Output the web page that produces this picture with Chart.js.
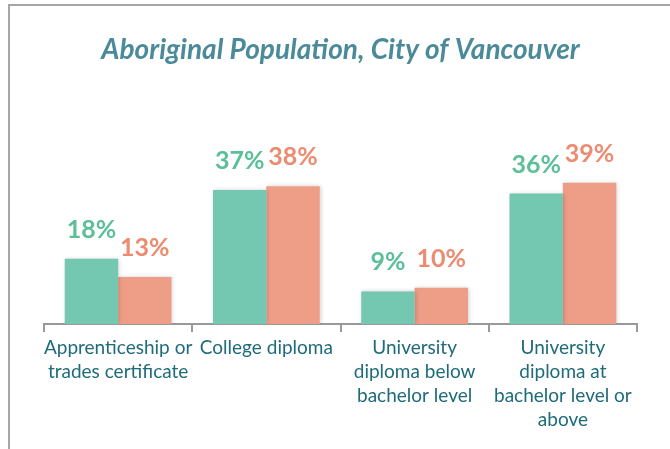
<!DOCTYPE html>
<html>
<head>
<meta charset="utf-8">
<script src="https://cdn.jsdelivr.net/npm/chart.js@4.4.1/dist/chart.umd.min.js"></script>
<style>
  html, body { margin: 0; padding: 0; background: #fff; }
  #wrap { width: 670px; height: 449px; position: relative; }
</style>
</head>
<body>
<div id="wrap"><canvas id="myChart" width="670" height="449"></canvas></div>
<script>
// Данные графика
const categories = [
    ['Apprenticeship or', 'trades certificate'],
    ['College diploma'],
    ['University', 'diploma below', 'bachelor level'],
    ['University', 'diploma at', 'bachelor level or', 'above']
];
const seriesA = [18, 37, 9, 36];
const seriesB = [13, 38, 10, 39];

const tealBar = '#74c7b0';
const salmonBar = '#ee9d87';
const tealText = '#5bbf98';
const salmonText = '#ec8b70';

// Рамка слева и сверху
const framePlugin = {
    id: 'frame',
    beforeDraw(chart) {
        const ctx = chart.ctx;
        ctx.save();
        ctx.strokeStyle = '#a6a6a6';
        ctx.lineWidth = 2;
        ctx.beginPath();
        ctx.moveTo(670, 5);
        ctx.lineTo(9, 5);
        ctx.lineTo(9, 449);
        ctx.stroke();
        ctx.restore();
    }
};

// Подписи значений над столбцами
const valueLabels = {
    id: 'valueLabels',
    afterDatasetsDraw(chart) {
        const ctx = chart.ctx;
        ctx.save();
        ctx.font = 'bold 25px Lato';
        ctx.textAlign = 'center';
        ctx.textBaseline = 'middle';
        chart.data.datasets.forEach((ds, i) => {
            const meta = chart.getDatasetMeta(i);
            ctx.fillStyle = ds.labelColor;
            meta.data.forEach((bar, j) => {
                ctx.fillText(ds.data[j] + '%', bar.x, bar.y - 29);
            });
        });
        ctx.restore();
    }
};

// Лёгкая тень у столбцов
const barShadow = {
    id: 'barShadow',
    beforeDatasetsDraw(chart) {
        const ctx = chart.ctx;
        ctx.save();
        ctx.shadowColor = 'rgba(0,0,0,0.18)';
        ctx.shadowBlur = 4;
        ctx.shadowOffsetX = 1;
        ctx.shadowOffsetY = 0;
    },
    afterDatasetsDraw(chart) {
        chart.ctx.restore();
    }
};

const ctx = document.getElementById('myChart').getContext('2d');
new Chart(ctx, {
    type: 'bar',
    data: {
        labels: categories,
        datasets: [{
            data: seriesA,
            backgroundColor: tealBar,
            labelColor: tealText,
            barPercentage: 1,
            categoryPercentage: 0.72
        }, {
            data: seriesB,
            backgroundColor: salmonBar,
            labelColor: salmonText,
            barPercentage: 1,
            categoryPercentage: 0.72
        }]
    },
    options: {
        responsive: false,
        animation: false,
        layout: { padding: { left: 44, right: 33, top: 0, bottom: 0 } },
        plugins: {
            legend: { display: false },
            tooltip: { enabled: false },
            title: {
                display: true,
                text: 'Aboriginal Population, City of Vancouver',
                color: '#4a8a99',
                font: { family: 'Lato', size: 28, style: 'italic', weight: 'bold' },
                padding: { top: 33, bottom: 40 }
            }
        },
        scales: {
            x: {
                afterFit(scale) { scale.height = 125; },
                grid: {
                    drawOnChartArea: false,
                    color: '#999',
                    lineWidth: 2,
                    tickLength: 8
                },
                border: { color: '#999', width: 2 },
                ticks: {
                    color: '#1e6b7a',
                    font: { family: 'Lato', size: 19, lineHeight: 1.26 },
                    padding: 4,
                    maxRotation: 0,
                    autoSkip: false
                }
            },
            y: {
                display: false,
                min: 0,
                max: 60
            }
        }
    },
    plugins: [framePlugin, barShadow, valueLabels]
});
</script>
</body>
</html>
